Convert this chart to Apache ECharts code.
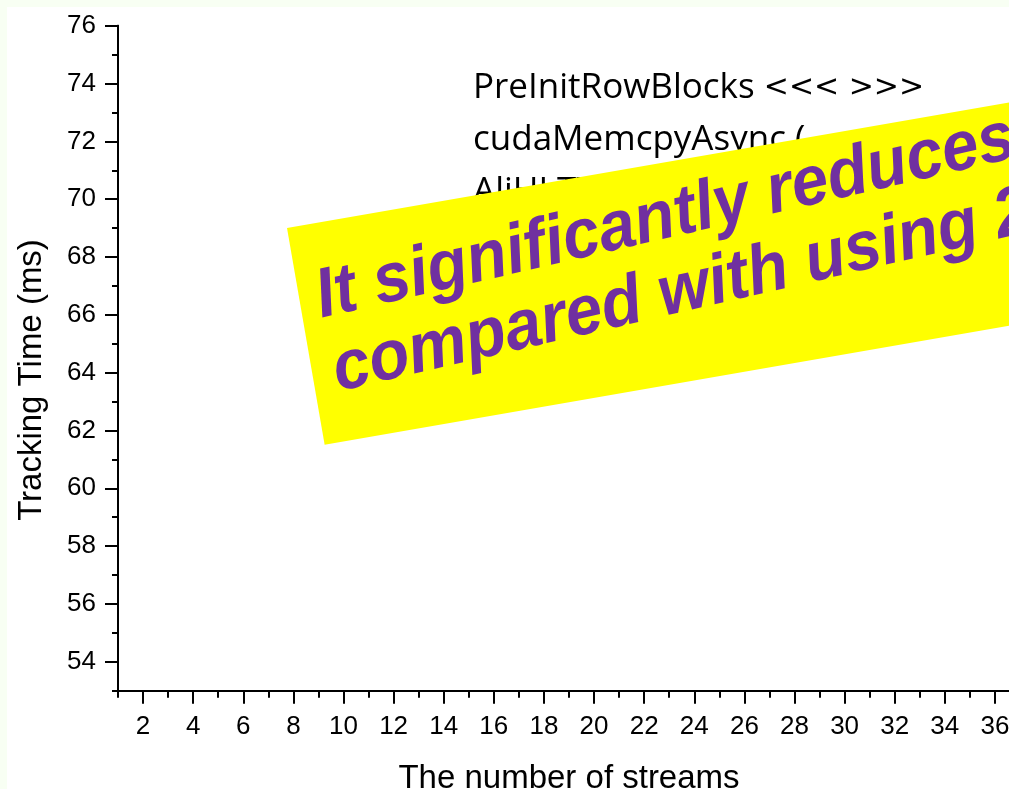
<!DOCTYPE html>
<html>
<head>
<meta charset="utf-8">
<script src="https://cdn.jsdelivr.net/npm/echarts@6/dist/echarts.min.js"></script>
<style>
  html, body { margin: 0; padding: 0; background: #f8fff3; }
  #chart { position: absolute; left: 7px; top: 7px; width: 1002px; height: 782px; background: #ffffff; }
</style>
</head>
<body>
<div id="chart"></div>
<script>
// ---- data ----
const xMajorTicks = [2,4,6,8,10,12,14,16,18,20,22,24,26,28,30,32,34,36];
const xMinorTicks = [1,3,5,7,9,11,13,15,17,19,21,23,25,27,29,31,33,35,37];
const yMajorTicks = [54,56,58,60,62,64,66,68,70,72,74,76];
const yMinorTicks = [53,55,57,59,61,63,65,67,69,71,73,75];
const xRange = [1, 37];
const yRange = [53, 76];
const xTitle = 'The number of streams';
const yTitle = 'Tracking Time (ms)';
const legendNames = ['PreInitRowBlocks', 'cudaMemcpyAsync (', 'AliHLTTPCGATracker'];
const legendSuffix = ['<<< >>>', '', ''];
const bannerLines = ['It significantly reduces the tracking time', 'compared with using 2 streams'];
const seriesValues = []; // no data marks visible in the reference

const chart = echarts.init(document.getElementById('chart'), null, {renderer: 'canvas'});

const axisColor = '#000';
const labelFont = 'Liberation Sans, Arial, sans-serif';

function xAxisDef(ticks, len, withLabels) {
  return {
    type: 'value', position: 'bottom', min: xRange[0], max: xRange[1],
    axisLine: { show: true, lineStyle: { color: axisColor, width: 2 } },
    axisTick: { show: true, inside: false, length: len, customValues: ticks, lineStyle: { color: axisColor, width: 2 } },
    axisLabel: withLabels ? { show: true, customValues: ticks, color: '#000', fontSize: 26, fontFamily: labelFont, margin: 23 } : { show: false },
    splitLine: { show: false },
    name: withLabels ? xTitle : '',
    nameLocation: 'middle', nameGap: 72,
    nameTextStyle: { color: '#000', fontSize: 33, fontFamily: labelFont }
  };
}
function yAxisDef(ticks, len, withLabels) {
  return {
    type: 'value', position: 'left', min: yRange[0], max: yRange[1],
    axisLine: { show: true, lineStyle: { color: axisColor, width: 2 } },
    axisTick: { show: true, inside: false, length: len, customValues: ticks, lineStyle: { color: axisColor, width: 2 } },
    axisLabel: withLabels ? { show: true, customValues: ticks, color: '#000', fontSize: 26, fontFamily: labelFont, margin: 22 } : { show: false },
    splitLine: { show: false }
  };
}

const bannerRot = 0.172;
const textRot = 0.227;

chart.setOption({
  animation: false,
  backgroundColor: '#ffffff',
  grid: { left: 111, top: 18.7, width: 902, height: 665, containLabel: false, outerBoundsMode: 'none' },
  xAxis: [ xAxisDef(xMajorTicks, 13, true), xAxisDef(xMinorTicks, 7, false) ],
  yAxis: [ yAxisDef(yMajorTicks, 13, true), yAxisDef(yMinorTicks, 6, false) ],
  series: [{ type: 'line', xAxisIndex: 0, yAxisIndex: 0, data: seriesValues, symbol: 'none' }],
  graphic: [
    {
      type: 'text', x: 25, y: 373, rotation: Math.PI / 2, z: 5,
      style: { text: yTitle, fill: '#000', fontSize: 33, fontFamily: labelFont, align: 'center', verticalAlign: 'middle' }
    },
    {
      type: 'group', x: 466, y: 81, z: 10,
      children: legendNames.map((t, i) => ({
        type: 'text', x: 0, y: i * 52,
        style: {
          text: '{n|' + t + '}' + (legendSuffix[i] ? '{s| }{c|' + legendSuffix[i] + '}' : ''),
          verticalAlign: 'middle', align: 'left',
          rich: {
            n: { fill: '#000', fontSize: 35, fontFamily: 'Open Sans, Noto Sans, sans-serif' },
            s: { fill: '#000', fontSize: 35, fontFamily: 'Open Sans, Noto Sans, sans-serif' },
            c: { fill: '#000', fontSize: 30, fontFamily: 'DejaVu Sans, sans-serif' }
          }
        }
      }))
    },
    {
      type: 'group', x: 280, y: 221, rotation: bannerRot, z: 20,
      children: [
        { type: 'rect', shape: { x: 0, y: 0, width: 1000, height: 220 }, style: { fill: '#ffff00' } }
      ]
    },
    {
      type: 'group', x: 310, y: 292, rotation: textRot, scaleY: 1.06, z: 30,
      children: bannerLines.map((t, i) => ({
        type: 'text', x: 0, y: i * 71,
        style: { text: t, fill: '#7030a0', fontSize: 66, fontWeight: 'bold', fontStyle: 'italic', fontFamily: 'Liberation Sans, Arial, sans-serif', verticalAlign: 'middle', align: 'left' }
      }))
    }
  ]
});
</script>
</body>
</html>
